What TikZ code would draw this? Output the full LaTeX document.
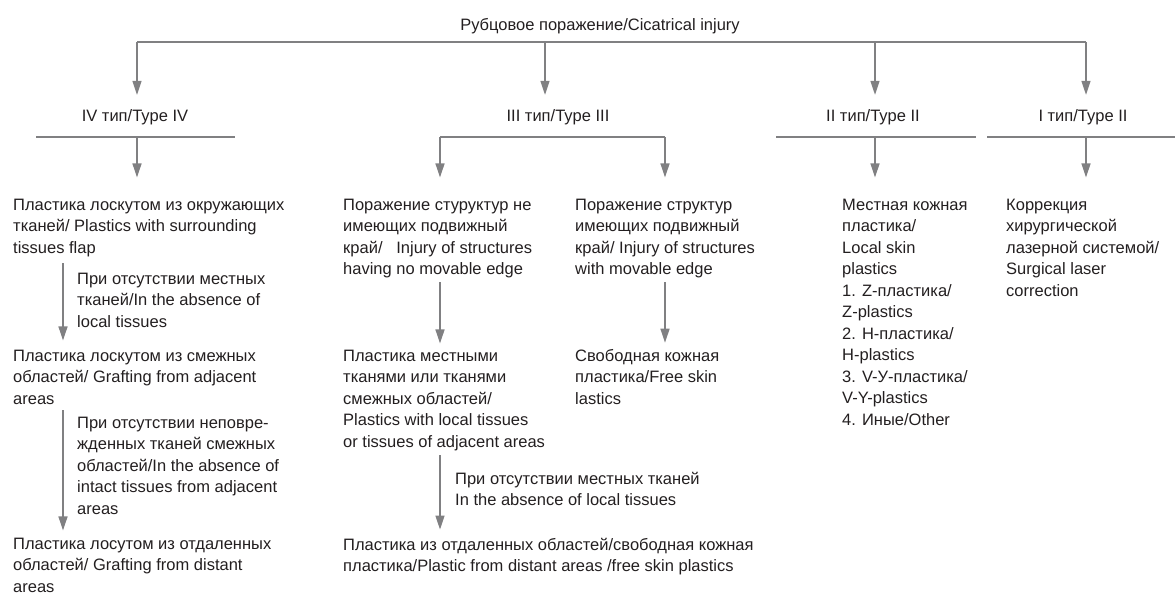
\documentclass[tikz,border=0pt]{standalone}
\usepackage{fontspec}
\setmainfont{Liberation Sans}
\usetikzlibrary{arrows.meta}
\definecolor{lineGray}{RGB}{128,128,130}
\definecolor{inkBlack}{RGB}{35,31,32}

\begin{document}
\begin{tikzpicture}[x=1pt, y=-1pt,
  txt/.style={anchor=base west, align=left, inner sep=0pt, text=inkBlack, font=\fontsize{16.5}{21.5}\selectfont},
  typ/.style={anchor=base, inner sep=0pt, text=inkBlack, font=\fontsize{16.5}{21.5}\selectfont},
  bar/.style={draw=lineGray, line width=1.2pt},
  arr/.style={draw=lineGray, line width=1.4pt, -{Triangle[length=14pt, width=9pt]}}]

  \useasboundingbox (0,0) rectangle (1175,592);

  % Root and top bar
  \node[typ] (root) at (600,30) {Рубцовое поражение/Cicatrical injury};
  \coordinate (bar4) at (137,42);
  \coordinate (bar3) at (545,42);
  \coordinate (bar2) at (875,42);
  \coordinate (bar1) at (1086,42);
  \draw[bar] (bar4) -- (bar1);

  % Types
  \node[typ] (t4) at (135,121) {IV тип/Type IV};
  \node[typ] (t3) at (558,121) {III тип/Type III};
  \node[typ] (t2) at (873,121) {II тип/Type II};
  \node[typ] (t1) at (1083,121) {I тип/Type II};

  \foreach \k in {4,3,2,1}
    \draw[arr, shorten >=14pt] (bar\k) -- (bar\k |- t\k.north);

  % Underlines below the types
  \coordinate (u4) at (137,137);
  \coordinate (u3l) at (440,137);
  \coordinate (u3r) at (665,137);
  \coordinate (u2) at (875,137);
  \coordinate (u1) at (1086,137);
  \draw[bar] (36,137) -- (235,137);
  \draw[bar] (u3l) -- (u3r);
  \draw[bar] (776,137) -- (976,137);
  \draw[bar] (987,137) -- (1175,137);

  % Type IV column (base = last line)
  \node[txt] (b4a) at (13,253) {Пластика лоскутом из окружающих\\тканей/ Plastics with surrounding\\tissues flap};
  \node[txt] (l4a) at (77,327) {При отсутствии местных\\тканей/In the absence of\\local tissues};
  \node[txt] (b4b) at (13,404) {Пластика лоскутом из смежных\\областей/ Grafting from adjacent\\areas};
  \node[txt] (l4b) at (77,514) {При отсутствии неповре-\\жденных тканей смежных\\областей/In the absence of\\intact tissues from adjacent\\areas};
  \node[txt] (b4c) at (13,592) {Пластика лосутом из отдаленных\\областей/ Grafting from distant\\areas};
  \coordinate (s4) at (63,0);
  \draw[arr, shorten >=21pt] (u4) -- (u4 |- b4a.north);
  \draw[arr, shorten <=6.5pt, shorten >=9pt] (b4a.south -| s4) -- (b4b.north -| s4);
  \draw[arr, shorten <=6pt, shorten >=7pt] (b4b.south -| s4) -- (b4c.north -| s4);

  % Type III column
  \node[txt] (b3a) at (343,274.5) {Поражение стуруктур не\\имеющих подвижный\\край/\ \ \ Injury of structures\\having no movable edge};
  \node[txt] (b3b) at (343,447) {Пластика местными\\тканями или тканями\\смежных областей/\\Plastics with local tissues\\or tissues of adjacent areas};
  \node[txt] (l3b) at (455,505.5) {При отсутствии местных тканей\\In the absence of local tissues};
  \node[txt] (b3c) at (343,571.5) {Пластика из отдаленных областей/свободная кожная\\пластика/Plastic from distant areas /free skin plastics};
  \node[txt] (b3d) at (575,274.5) {Поражение структур\\имеющих подвижный\\край/ Injury of structures\\with movable edge};
  \node[txt] (b3e) at (575,404) {Свободная кожная\\пластика/Free skin\\lastics};
  \draw[arr, shorten >=21pt] (u3l) -- (u3l |- b3a.north);
  \draw[arr, shorten >=21pt] (u3r) -- (u3r |- b3d.north);
  \draw[arr, shorten <=4pt, shorten >=6pt] (b3a.south -| u3l) -- (b3b.north -| u3l);
  \draw[arr, shorten <=4.5pt, shorten >=8pt] (b3b.south -| u3l) -- (b3c.north -| u3l);
  \draw[arr, shorten <=4pt, shorten >=6pt] (b3d.south -| u3r) -- (b3e.north -| u3r);

  % Type II column
  \node[txt] (b2) at (842,425) {Местная кожная\\пластика/\\Local skin\\plastics\\1. Z-пластика/\\Z-plastics\\2. H-пластика/\\H-plastics\\3. V-У-пластика/\\V-Y-plastics\\4. Иные/Other};
  \draw[arr, shorten >=21pt] (u2) -- (u2 |- b2.north);

  % Type I column
  \node[txt] (b1) at (1006,296) {Коррекция\\хирургической\\лазерной системой/\\Surgical laser\\correction};
  \draw[arr, shorten >=21pt] (u1) -- (u1 |- b1.north);

\end{tikzpicture}
\end{document}
